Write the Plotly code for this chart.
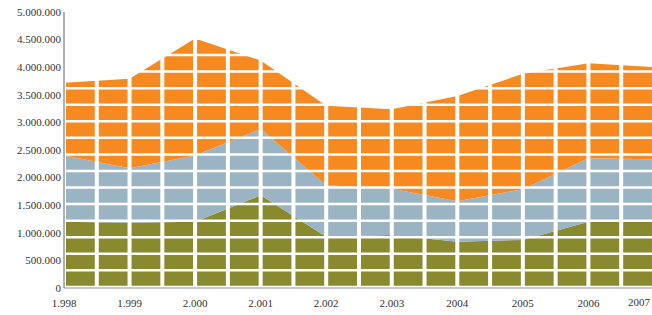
import plotly.graph_objects as go

years = [1998, 1999, 2000, 2001, 2002, 2003, 2004, 2005, 2006, 2007]
olive_vals = [1200000, 1180000, 1200000, 1680000, 930000, 960000, 840000, 870000, 1200000, 1200000]
blue_vals = [1200000, 990000, 1200000, 1200000, 930000, 840000, 730000, 920000, 1150000, 1130000]
orange_vals = [1320000, 1620000, 2120000, 1240000, 1440000, 1440000, 1910000, 2090000, 1720000, 1670000]

x_tickvals = [1998, 1999, 2000, 2001, 2002, 2003, 2004, 2005, 2006]
x_ticktext = ["1.998", "1.999", "2.000", "2.001", "2.002", "2.003", "2004", "2005", "2006"]
last_label = "2007"
y_tickvals = [0, 500000, 1000000, 1500000, 2000000, 2500000, 3000000, 3500000, 4000000, 4500000, 5000000]
y_ticktext = ["0", "500.000", "1.000.000", "1.500.000", "2.000.000", "2.500.000",
              "3.000.000", "3.500.000", "4.000.000", "4.500.000", "5.000.000"]

OLIVE = "#898A2D"
BLUE = "#9AB4C3"
ORANGE = "#F68A20"
FONT = "Liberation Serif"
FS = 11
TXT = "#333333"

fig = go.Figure()
for name, vals, col in [("A", olive_vals, OLIVE), ("B", blue_vals, BLUE), ("C", orange_vals, ORANGE)]:
    fig.add_trace(go.Scatter(x=years, y=vals, stackgroup="one", mode="lines",
                             line=dict(width=0, color=col), fillcolor=col, name=name,
                             hoverinfo="skip"))

# white brick pattern over the areas
shapes = []
x_step = 0.5
y_step = 300000
y_off = 20000
xv = 1998.0
while xv < 2007.01:
    shapes.append(dict(type="line", xref="x", yref="y", x0=xv, x1=xv, y0=0, y1=5000000,
                       line=dict(color="white", width=4), layer="above"))
    xv += x_step
yv = y_off
while yv < 5000000:
    shapes.append(dict(type="line", xref="x", yref="y", x0=1998, x1=2007, y0=yv, y1=yv,
                       line=dict(color="white", width=2.5), layer="above"))
    yv += y_step
# axis lines
shapes.append(dict(type="line", xref="paper", yref="paper", x0=0, x1=1, y0=0, y1=0,
                   line=dict(color="#C8C8C8", width=2), layer="above"))
shapes.append(dict(type="line", xref="paper", yref="paper", x0=0, x1=0, y0=0, y1=1,
                   line=dict(color="#999999", width=1.5), layer="above"))

fig.update_layout(
    width=652, height=315,
    margin=dict(l=64, r=0, t=12, b=27),
    paper_bgcolor="white", plot_bgcolor="white",
    showlegend=False,
    shapes=shapes,
    font=dict(family=FONT, size=FS, color=TXT),
    xaxis=dict(range=[1998, 2006.97], tickvals=x_tickvals, ticktext=x_ticktext,
               showgrid=False, zeroline=False, showline=False, ticks="", automargin=False,
               ticklabelstandoff=7, tickfont=dict(family=FONT, size=FS, color=TXT)),
    yaxis=dict(range=[0, 5000000], tickvals=y_tickvals, ticktext=y_ticktext,
               showgrid=False, zeroline=False, showline=False, ticks="", automargin=False,
               ticklabelstandoff=2, tickfont=dict(family=FONT, size=FS, color=TXT)),
    annotations=[dict(text=last_label, xref="paper", yref="paper", x=1, y=0,
                      xanchor="right", yanchor="top", xshift=1, yshift=-6, showarrow=False,
                      font=dict(family=FONT, size=FS, color=TXT))],
)

fig.write_html("out.html", config={"displayModeBar": False},
               post_script="document.body.style.margin='0';document.body.style.overflow='hidden';")
